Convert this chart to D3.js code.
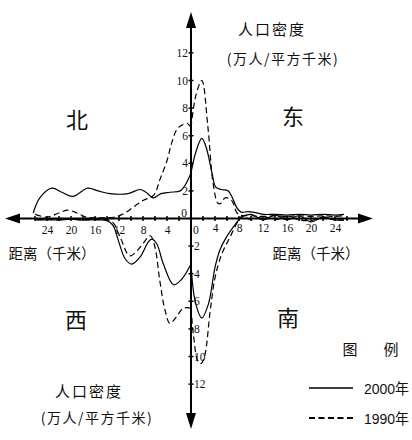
<!DOCTYPE html>
<html><head><meta charset="utf-8">
<script src="https://cdn.jsdelivr.net/npm/d3@7"></script>
<style>
html,body{margin:0;padding:0;background:#fff;}
svg{display:block;}
.cjk{font-family:"Noto Sans CJK SC","Noto Sans CJK JP",sans-serif;fill:#111;}
.num{font-family:"Liberation Serif","DejaVu Serif",serif;fill:#111;}
.leg{font-family:"Liberation Sans","Noto Sans CJK SC",sans-serif;fill:#111;}
</style>
</head><body>
<script>
// ---- data (distance in km, density in 10k people / km²) ----
const northDist2000 = [0, 1, 1.8, 3.5, 5, 6.3, 7.5, 8.5, 10.5, 13.5, 15.5, 17.2, 19.7, 21.5, 23.2, 25.2, 26.3];
const north2000     = [3.3, 2.4, 2.0, 1.9, 1.8, 1.5, 1.9, 2.1, 1.8, 1.8, 2.0, 2.2, 1.6, 1.9, 2.2, 1.5, 0.4];
const northDist1990 = [0, 0.7, 1.4, 2.3, 3.2, 4, 5.2, 6.2, 8, 9.7, 11, 12.3, 14, 16, 17.5, 19, 20.5, 22, 24, 26];
const north1990     = [6.6, 6.9, 6.8, 6.5, 5.5, 4.2, 2.8, 1.7, 1.3, 0.8, 0.4, 0.15, 0.05, 0.05, 0.1, 0.4, 0.6, 0.4, 0.1, 0.3];

const eastDist2000 = [0, 0.8, 1.8, 2.5, 3.5, 4.1, 5, 6.2, 7, 7.6, 8.4, 9.5, 10.5, 12, 14, 16, 18, 20, 22, 24, 25.5];
const east2000     = [3.3, 4.8, 5.8, 5.2, 3.3, 2.3, 2.1, 2.0, 1.4, 0.8, 0.45, 0.5, 0.45, 0.3, 0.3, 0.25, 0.3, 0.25, 0.3, 0.25, 0.3];
const eastDist1990 = [0, 0.8, 1.8, 2.8, 3.7, 4.5, 5, 5.7, 6.8, 7.6, 8.2, 10, 12, 14, 16, 18, 20, 22, 24, 25.5];
const east1990     = [6.6, 8.9, 10, 6.7, 2.5, 1.1, 1.1, 1.5, 1.3, 0.45, 0.25, 0.2, 0.15, 0.2, 0.15, 0.2, 0.15, 0.2, 0.15, 0.2];

const westDist2000 = [0, 1.55, 2.9, 4.6, 5.7, 6.55, 7.1, 8.5, 9.9, 11, 12.1, 13, 14, 16, 18, 20, 22, 24, 26];
const west2000     = [3.3, 4.4, 4.8, 3.3, 1.85, 1.5, 1.7, 2.8, 3.3, 2.9, 1.6, 0.5, 0.15, 0.1, 0.1, 0.05, 0.1, 0.1, 0.1];
const westDist1990 = [0, 1.3, 2.4, 3.5, 4.3, 5.2, 6, 6.8, 8.5, 10.2, 11.8, 13, 14, 16, 18, 20, 22, 24, 26];
const west1990     = [6.5, 6.5, 7.1, 7.6, 6.7, 4.5, 2.1, 1.25, 2.1, 2.7, 1.35, 0.3, 0.1, 0.05, 0.1, 0.05, 0.1, 0.05, 0.1];

const southDist2000 = [0, 0.7, 1.8, 2.9, 4, 4.8, 5.9, 7.6, 8.4, 10, 12, 14, 16, 18, 20, 22, 24, 25.5];
const south2000     = [3.3, 6.0, 7.2, 6.2, 3.55, 2.3, 1.35, 0.3, -0.1, -0.3, 0.1, -0.25, 0.1, -0.2, 0.25, -0.1, 0.1, 0.1];
const southDist1990 = [0, 0.4, 1.2, 1.7, 2.3, 3.2, 4, 5.1, 6.5, 7.9, 8.6, 10, 12, 14, 16, 18, 20, 22, 24, 25.5];
const south1990     = [6.5, 8.4, 10.4, 10.5, 9.9, 6.7, 4.3, 2.6, 1.35, 0.15, -0.2, 0.1, -0.15, 0.1, -0.15, 0.1, 0.15, -0.1, 0.1, 0.1];

const distTicks = [4, 8, 12, 16, 20, 24];
const distMinor = [2, 4, 6, 8, 10, 12, 14, 16, 18, 20, 22, 24, 26];
const densTicks = [2, 4, 6, 8, 10, 12];

// ---- layout ----
const W = 412, H = 440, ox = 191, oy = 218.5;
const svg = d3.select("body").append("svg").attr("width", W).attr("height", H);

const xLeft  = d3.scaleLinear().domain([0, 26]).range([ox, ox - 156]);
const xRight = d3.scaleLinear().domain([0, 26]).range([ox, ox + 156]);
const yUp    = d3.scaleLinear().domain([0, 12]).range([oy, oy - 13.8 * 12]);
const yDown  = d3.scaleLinear().domain([0, 12]).range([oy, oy + 13.8 * 12]);

// axes lines
const ax = svg.append("g").attr("stroke", "#000").attr("stroke-width", 2);
ax.append("line").attr("x1", 14).attr("x2", 364).attr("y1", oy).attr("y2", oy);
ax.append("line").attr("x1", ox).attr("x2", ox).attr("y1", 24).attr("y2", 418);
// arrowheads
const arrows = [
  [[5, oy], [20, oy - 5], [20, oy + 5]],
  [[373, oy], [358, oy - 5], [358, oy + 5]],
  [[ox, 12], [ox - 5, 28], [ox + 5, 28]],
  [[ox, 429], [ox - 5, 413], [ox + 5, 413]]
];
svg.selectAll("path.arrow").data(arrows).join("path")
  .attr("class", "arrow").attr("d", d => "M" + d.join("L") + "Z").attr("fill", "#000");

// minor ticks
const tk = svg.append("g").attr("stroke", "#000").attr("stroke-width", 1.5);
[xLeft, xRight].forEach(s => {
  tk.selectAll(null).data(distMinor).join("line")
    .attr("x1", d => s(d)).attr("x2", d => s(d)).attr("y1", oy - 2.5).attr("y2", oy + 2.5);
});
[yUp, yDown].forEach(s => {
  tk.selectAll(null).data(densTicks).join("line")
    .attr("x1", ox - 2.5).attr("x2", ox + 2.5).attr("y1", d => s(d)).attr("y2", d => s(d));
});

// tick labels using d3 axes
function styleAxis(g) {
  g.select(".domain").remove();
  g.selectAll(".tick line").remove();
  g.selectAll("text").attr("class", "num").attr("font-size", 11.5).attr("font-family", null).attr("fill", "#111");
}
svg.append("g").attr("transform", `translate(0,${oy})`)
  .call(d3.axisBottom(xLeft).tickValues(distTicks).tickSize(0).tickPadding(7)).call(styleAxis);
svg.append("g").attr("transform", `translate(0,${oy - 2})`)
  .call(d3.axisBottom(xRight).tickValues(distTicks).tickSize(0).tickPadding(7)).call(styleAxis);
svg.append("g").attr("transform", `translate(${ox - 1},0)`)
  .call(d3.axisLeft(yUp).tickValues(densTicks).tickSize(0).tickPadding(2)).call(styleAxis);
svg.append("g").attr("transform", `translate(${ox + 1},0)`)
  .call(d3.axisRight(yDown).tickValues(densTicks).tickSize(0).tickPadding(2)).call(styleAxis);
svg.append("text").attr("class", "num").attr("font-size", 11.5).attr("x", ox - 4).attr("y", oy - 2).attr("text-anchor", "end").text("0");
svg.append("text").attr("class", "num").attr("font-size", 11.5).attr("x", ox + 2).attr("y", oy + 15).text("0");

// curves
const curve = d3.curveCatmullRom.alpha(0.5);
function drawSeries(dist, vals, xs, ys, dashed) {
  const pts = dist.map((d, i) => [d, vals[i]]);
  const line = d3.line().x(p => xs(p[0])).y(p => ys(p[1])).curve(curve);
  svg.append("path").datum(pts).attr("d", line)
    .attr("fill", "none").attr("stroke", "#000").attr("stroke-width", 1.2)
    .attr("stroke-dasharray", dashed ? "6,3.5" : null);
}
drawSeries(northDist2000, north2000, xLeft, yUp, false);
drawSeries(northDist1990, north1990, xLeft, yUp, true);
drawSeries(eastDist2000, east2000, xRight, yUp, false);
drawSeries(eastDist1990, east1990, xRight, yUp, true);
drawSeries(westDist2000, west2000, xLeft, yDown, false);
drawSeries(westDist1990, west1990, xLeft, yDown, true);
drawSeries(southDist2000, south2000, xRight, yDown, false);
drawSeries(southDist1990, south1990, xRight, yDown, true);

// texts
function t(x, y, s, size, anchor, cls, ls, len) {
  const el = svg.append("text").attr("class", cls || "cjk").attr("x", x).attr("y", y)
    .attr("font-size", size).attr("text-anchor", anchor || "middle")
    .attr("dominant-baseline", "central").attr("letter-spacing", ls || 0).text(s);
  if (len) el.attr("textLength", len).attr("lengthAdjust", "spacingAndGlyphs");
}
t(272, 28, "人口密度", 15, "middle", "cjk", 2);
t(283, 58, "(万人/平方千米)", 14, "middle", "cjk", 1.5);
t(77, 118, "北", 22);
t(293, 115, "东", 22);
t(76, 318, "西", 22);
t(288, 316, "南", 22);
t(52, 252, "距离（千米）", 14.5, "middle");
t(316, 252, "距离（千米）", 14.5, "middle");
t(350, 348, "图", 15);
t(391, 348, "例", 15);
t(89, 390, "人口密度", 15, "middle", "cjk", 2);
t(97, 417, "(万人/平方千米)", 14, "middle", "cjk", 1.5);

// legend
svg.append("line").attr("x1", 309).attr("x2", 353).attr("y1", 388).attr("y2", 388)
  .attr("stroke", "#000").attr("stroke-width", 1.3);
svg.append("line").attr("x1", 309).attr("x2", 353).attr("y1", 418).attr("y2", 418)
  .attr("stroke", "#000").attr("stroke-width", 2).attr("stroke-dasharray", "6,3.5");
t(364, 388, "2000年", 15, "start", "leg", 0, 45);
t(364, 418, "1990年", 15, "start", "leg", 0, 45);
</script>
</body></html>
